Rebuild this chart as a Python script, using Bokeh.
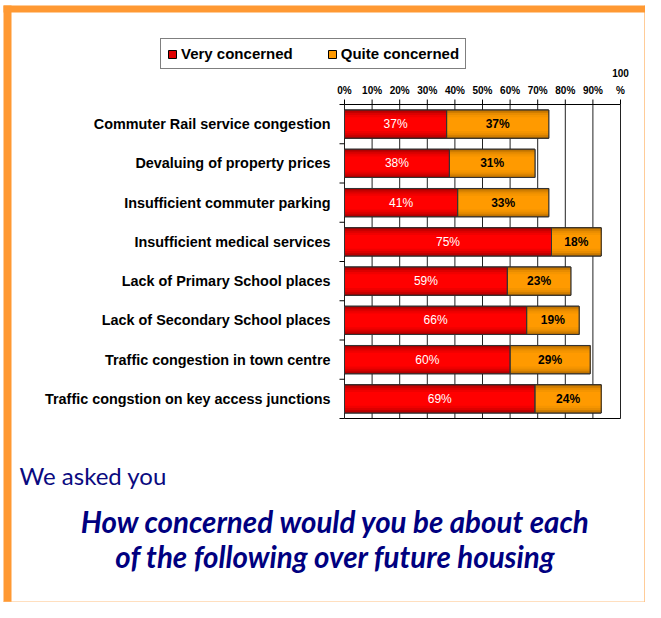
from bokeh.plotting import figure
from bokeh.models import (Range1d, Legend, LegendItem, Label,
                          BoxAnnotation, ColumnDataSource)
from bokeh.core.properties import value
from bokeh.embed import file_html
from bokeh.resources import INLINE

# ---------------- data ----------------
categories = [
    "Commuter Rail service congestion",
    "Devaluing of property prices",
    "Insufficient commuter parking",
    "Insufficient medical services",
    "Lack of Primary School places",
    "Lack of Secondary School places",
    "Traffic congestion in town centre",
    "Traffic congstion on key access junctions",
]
very_concerned = [37, 38, 41, 75, 59, 66, 60, 69]
quite_concerned = [37, 31, 33, 18, 23, 19, 29, 24]
series_names = ["Very concerned", "Quite concerned"]
x_ticks = [0, 10, 20, 30, 40, 50, 60, 70, 80, 90, 100]
x_tick_labels = ["0%", "10%", "20%", "30%", "40%", "50%", "60%", "70%",
                 "80%", "90%", "100\n%"]
intro_text = "We asked you"
question_lines = ["How concerned would you be about each",
                  "of the following over future housing"]

# ---------------- layout (canvas px) ----------------
W, H = 645, 602
CL, CR, CT, CB = 344, 620, 104, 418   # plot area of the bar chart
ORANGE = "#FF9933"
NAVY = "#0A0A80"
FONT = "Liberation Sans"

n = len(categories)
kx = (CR - CL) / 100.0          # px per percent
ky = (CB - CT) / n              # px per category band

p = figure(width=W, height=H, output_backend="svg", toolbar_location=None,
           x_axis_type=None, y_axis_type=None,
           x_range=Range1d(-CL / kx, 100 + (W - CR) / kx),
           y_range=Range1d(-(H - CB) / ky, n + CT / ky),
           min_border=0, min_border_left=0, min_border_right=0,
           min_border_top=0, min_border_bottom=0)
p.outline_line_color = None
p.background_fill_color = "white"
p.border_fill_color = "white"

ypos = [n - i - 0.5 for i in range(n)]
bounds = list(range(n + 1))
src = ColumnDataSource(dict(
    y=ypos,
    very=very_concerned,
    end=[v + q for v, q in zip(very_concerned, quite_concerned)],
    mid_v=[v / 2 for v in very_concerned],
    mid_q=[v + q / 2 for v, q in zip(very_concerned, quite_concerned)],
    lab_v=[f"{v}%" for v in very_concerned],
    lab_q=[f"{q}%" for q in quite_concerned],
))

# grid + frame
p.segment(x0=x_ticks, y0=[0] * len(x_ticks), x1=x_ticks, y1=[n] * len(x_ticks),
          line_color="#222222", line_width=1)
p.segment(x0=[0, 0], y0=[0, n], x1=[100, 100], y1=[0, n],
          line_color="black", line_width=1)
# top axis ticks and labels
p.segment(x0=x_ticks, y0=[n] * len(x_ticks), x1=x_ticks,
          y1=[n + 5 / ky] * len(x_ticks), line_color="black", line_width=1)
p.text(x=x_ticks, y=[n + 9 / ky] * len(x_ticks), text=x_tick_labels,
       text_align="center", text_baseline="bottom", text_font=value(FONT),
       text_font_style="bold", text_font_size="10px", text_color="black",
       text_line_height=1.5)
# left axis ticks (band boundaries) and category labels
p.segment(x0=[0] * len(bounds), y0=bounds, x1=[-5 / kx] * len(bounds),
          y1=bounds, line_color="black", line_width=1)
p.text(x=[-14 / kx] * n, y=ypos, text=categories, text_align="right",
       text_baseline="middle", text_font=value(FONT), text_font_style="bold",
       text_font_size="14.4px", text_color="black")

# bars: base (also used as legend swatch), gradient layers, outline
BAR_H = 0.72
r_red = p.hbar(y="y", left=0, right="very", height=BAR_H, source=src,
               fill_color="#E00000", line_color="black", line_width=1)
r_org = p.hbar(y="y", left="very", right="end", height=BAR_H, source=src,
               fill_color="#FF9900", line_color="black", line_width=1)
red_layers = [(0.72, "#9E0000"), (0.65, "#C20000"), (0.57, "#DC0000"),
              (0.47, "#F00000"), (0.35, "#FF0000")]
orange_layers = [(0.72, "#B06A00"), (0.65, "#CF7D00"), (0.57, "#E88C00"),
                 (0.47, "#F59500"), (0.35, "#FF9A00")]
for h, c in red_layers:
    p.hbar(y="y", left=0, right="very", height=h, source=src,
           fill_color=c, line_color=None)
for h, c in orange_layers:
    p.hbar(y="y", left="very", right="end", height=h, source=src,
           fill_color=c, line_color=None)
p.hbar(y="y", left=0, right="very", height=BAR_H, source=src,
       fill_color=None, line_color="#333333", line_width=1)
p.hbar(y="y", left="very", right="end", height=BAR_H, source=src,
       fill_color=None, line_color="#333333", line_width=1)

p.text(x="mid_v", y="y", text="lab_v", source=src, text_color="white",
       text_align="center", text_baseline="middle", text_font=value(FONT),
       text_font_size="12px")
p.text(x="mid_q", y="y", text="lab_q", source=src, text_color="black",
       text_align="center", text_baseline="middle", text_font=value(FONT),
       text_font_style="bold", text_font_size="12px")

# legend
legend = Legend(items=[LegendItem(label=series_names[0], renderers=[r_red]),
                       LegendItem(label=series_names[1], renderers=[r_org])],
                orientation="horizontal", location=(160, H - 69),
                border_line_color="black", border_line_width=1,
                padding=6, spacing=34, margin=0,
                glyph_width=10, glyph_height=10, label_standoff=4,
                label_height=16,
                label_text_font=FONT, label_text_font_style="bold",
                label_text_font_size="15px", label_text_color="black",
                background_fill_color="white", background_fill_alpha=1)
p.add_layout(legend)

# texts below the chart (screen px, origin bottom-left)
p.add_layout(Label(x=19, y=H - 475, x_units="screen", y_units="screen",
                   text=intro_text, text_font="Lato", text_font_size="24px",
                   text_color=NAVY, text_baseline="alphabetic"))
for line, base in zip(question_lines, [521, 556]):
    p.add_layout(Label(x=335, y=H - base, x_units="screen", y_units="screen",
                       text=line, text_font="Lato",
                       text_font_style="bold italic", text_font_size="29.5px",
                       text_color="#000080", text_align="center",
                       text_baseline="alphabetic"))

# orange page frame
for l, r, t, b, c in [(3, 11, 5, H, ORANGE), (3, W, 5, 12, ORANGE),
                      (W - 1, W, 5, H, ORANGE), (3, W, H - 1, H, "#FFC080")]:
    p.add_layout(BoxAnnotation(left=l, right=r, top=H - t, bottom=H - b,
                               left_units="screen", right_units="screen",
                               top_units="screen", bottom_units="screen",
                               fill_color=c, fill_alpha=1, line_color=None,
                               level="overlay"))

open("out.html", "w").write(file_html(p, INLINE))
